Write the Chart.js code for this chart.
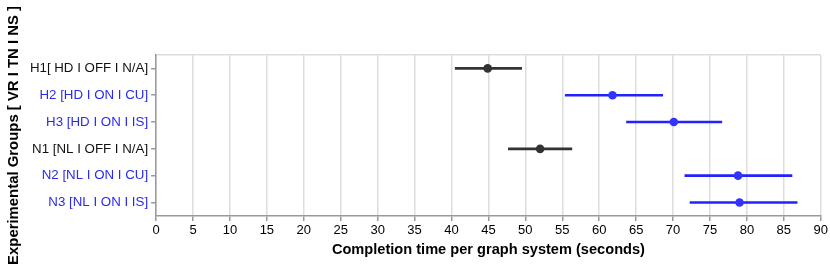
<!DOCTYPE html>
<html>
<head>
<meta charset="utf-8">
<script src="https://cdn.jsdelivr.net/npm/chart.js@4"></script>
<style>
html,body{margin:0;padding:0;background:#fff;}
#wrap{width:830px;height:270px;}
</style>
</head>
<body>
<div id="wrap"><canvas id="c" width="830" height="270"></canvas></div>
<script>
const categories = ["H1[ HD I OFF I N/A]", "H2 [HD I ON I CU]", "H3 [HD I ON I IS]", "N1 [NL I OFF I N/A]", "N2 [NL I ON I CU]", "N3 [NL I ON I IS]"];
const meanValues = [44.9, 61.8, 70.1, 52.0, 78.8, 79.0];
const lowerValues = [40.5, 55.4, 63.7, 47.7, 71.6, 72.3];
const upperValues = [49.5, 68.6, 76.6, 56.3, 86.1, 86.8];
const xTicks = [0,5,10,15,20,25,30,35,40,45,50,55,60,65,70,75,80,85,90];
const groupColors = ["#333333", "#2222ff", "#2222ff", "#333333", "#2222ff", "#2222ff"];
const pointColors = ["#333333", "#3333ff", "#3333ff", "#333333", "#3333ff", "#3333ff"];
const labelColors = ["#111111", "#2a2aee", "#2a2aee", "#111111", "#2a2aee", "#2a2aee"];

const FONT = "'Liberation Sans', Arial, Helvetica, sans-serif";
Chart.defaults.font.family = FONT;

new Chart(document.getElementById('c'), {
  type: 'bar',
  data: {
    labels: categories,
    datasets: [
      {
        type: 'bar',
        data: lowerValues.map((v, i) => [v, upperValues[i]]),
        backgroundColor: groupColors,
        borderWidth: 0,
        barThickness: 2,
        order: 2
      },
      {
        type: 'line',
        data: meanValues,
        showLine: false,
        pointRadius: 4.3,
        pointHoverRadius: 4.3,
        pointBackgroundColor: pointColors,
        pointBorderWidth: 0,
        order: 1
      }
    ]
  },
  options: {
    indexAxis: 'y',
    responsive: false,
    animation: false,
    devicePixelRatio: 1,
    layout: { padding: { left: 5, right: 6, top: 55, bottom: 11 } },
    plugins: { legend: { display: false }, tooltip: { enabled: false } },
    scales: {
      x: {
        type: 'linear',
        min: 0, max: 90,
        afterBuildTicks: (s) => { s.ticks = xTicks.map(v => ({ value: v })); },
        ticks: { color: '#000', font: { size: 13 }, padding: 2, maxRotation: 0, autoSkip: false },
        grid: { color: '#dddddd', lineWidth: 1.5, tickColor: '#999999', tickLength: 5, drawOnChartArea: true },
        border: { color: '#999999', width: 1.5 },
        title: { display: true, text: 'Completion time per graph system (seconds)', color: '#000', font: { size: 14.6, weight: 'bold' }, padding: { top: 1, bottom: 0 } }
      },
      x2: {
        type: 'linear', position: 'top', min: 0, max: 90,
        ticks: { display: false },
        grid: { display: false, drawTicks: false },
        border: { color: '#dddddd', width: 1.5 }
      },
      y: {
        type: 'category',
        offset: true,
        ticks: { color: (ctx) => labelColors[ctx.index], font: { size: 13.3 }, padding: 3 },
        grid: { offset: false, drawOnChartArea: false, tickColor: '#999999', tickLength: 5, lineWidth: 1.5 },
        border: { color: '#999999', width: 1.5 },
        title: { display: true, text: 'Experimental Groups [ VR I TN I NS ]', color: '#000', font: { size: 14.9, weight: 'bold' }, padding: { top: 0, bottom: 4 } }
      }
    }
  }
});
</script>
</body>
</html>
